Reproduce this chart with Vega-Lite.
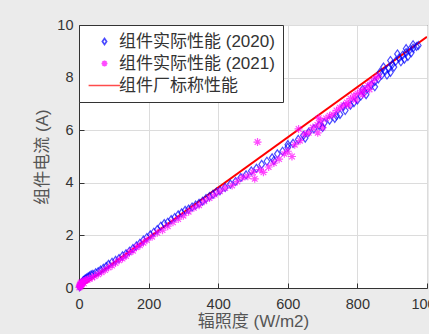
{
  "$schema": "https://vega.github.io/schema/vega-lite/v6.json",
  "width": 348,
  "height": 263,
  "autosize": {"type": "none"},
  "padding": {"left": 79, "top": 25, "right": 2, "bottom": 46},
  "background": "#ebebeb",
  "config": {
    "font": "Liberation Sans, Noto Sans CJK SC",
    "view": {"stroke": "#333333", "strokeWidth": 1, "fill": "white"},
    "axis": {
      "labelFont": "Liberation Sans, Noto Sans CJK SC",
      "titleFont": "Liberation Sans, Noto Sans CJK SC",
      "labelFontSize": 14.5,
      "labelColor": "#333333",
      "titleFontSize": 17,
      "titleFontWeight": "normal",
      "titleColor": "#555555",
      "domainColor": "#333333",
      "tickColor": "#333333",
      "gridColor": "#dcdcdc",
      "tickSize": -5,
      "labelFlush": false
    },
    "legend": {
      "labelFont": "Liberation Sans, Noto Sans CJK SC",
      "labelFontSize": 17,
      "labelColor": "#333333"
    }
  },
  "data": {
    "values": [
      {"g": "组件实际性能 (2020)", "x": 2, "y": 0.05}, {"g": "组件实际性能 (2020)", "x": 4, "y": 0.1}, {"g": "组件实际性能 (2020)", "x": 6, "y": 0.15}, {"g": "组件实际性能 (2020)", "x": 8, "y": 0.2}, {"g": "组件实际性能 (2020)", "x": 10, "y": 0.22}, {"g": "组件实际性能 (2020)", "x": 12, "y": 0.28}, {"g": "组件实际性能 (2020)", "x": 15, "y": 0.3}, {"g": "组件实际性能 (2020)", "x": 18, "y": 0.35}, {"g": "组件实际性能 (2020)", "x": 22, "y": 0.38}, {"g": "组件实际性能 (2020)", "x": 26, "y": 0.42}, {"g": "组件实际性能 (2020)", "x": 30, "y": 0.45}, {"g": "组件实际性能 (2020)", "x": 35, "y": 0.5}, {"g": "组件实际性能 (2020)", "x": 40, "y": 0.52}, {"g": "组件实际性能 (2020)", "x": 48, "y": 0.58}, {"g": "组件实际性能 (2020)", "x": 55, "y": 0.62}, {"g": "组件实际性能 (2020)", "x": 62, "y": 0.68}, {"g": "组件实际性能 (2020)", "x": 70, "y": 0.75}, {"g": "组件实际性能 (2020)", "x": 78, "y": 0.82}, {"g": "组件实际性能 (2020)", "x": 85, "y": 0.9}, {"g": "组件实际性能 (2020)", "x": 95, "y": 0.98}, {"g": "组件实际性能 (2020)", "x": 105, "y": 1.05}, {"g": "组件实际性能 (2020)", "x": 115, "y": 1.12}, {"g": "组件实际性能 (2020)", "x": 125, "y": 1.22}, {"g": "组件实际性能 (2020)", "x": 135, "y": 1.3}, {"g": "组件实际性能 (2020)", "x": 145, "y": 1.4}, {"g": "组件实际性能 (2020)", "x": 155, "y": 1.5}, {"g": "组件实际性能 (2020)", "x": 165, "y": 1.6}, {"g": "组件实际性能 (2020)", "x": 175, "y": 1.7}, {"g": "组件实际性能 (2020)", "x": 185, "y": 1.82}, {"g": "组件实际性能 (2020)", "x": 195, "y": 1.92}, {"g": "组件实际性能 (2020)", "x": 205, "y": 2.02}, {"g": "组件实际性能 (2020)", "x": 215, "y": 2.12}, {"g": "组件实际性能 (2020)", "x": 225, "y": 2.22}, {"g": "组件实际性能 (2020)", "x": 235, "y": 2.35}, {"g": "组件实际性能 (2020)", "x": 245, "y": 2.45}, {"g": "组件实际性能 (2020)", "x": 255, "y": 2.5}, {"g": "组件实际性能 (2020)", "x": 265, "y": 2.6}, {"g": "组件实际性能 (2020)", "x": 275, "y": 2.68}, {"g": "组件实际性能 (2020)", "x": 285, "y": 2.78}, {"g": "组件实际性能 (2020)", "x": 295, "y": 2.86}, {"g": "组件实际性能 (2020)", "x": 305, "y": 2.95}, {"g": "组件实际性能 (2020)", "x": 315, "y": 3.0}, {"g": "组件实际性能 (2020)", "x": 325, "y": 3.08}, {"g": "组件实际性能 (2020)", "x": 335, "y": 3.15}, {"g": "组件实际性能 (2020)", "x": 345, "y": 3.22}, {"g": "组件实际性能 (2020)", "x": 355, "y": 3.3}, {"g": "组件实际性能 (2020)", "x": 365, "y": 3.4}, {"g": "组件实际性能 (2020)", "x": 375, "y": 3.48}, {"g": "组件实际性能 (2020)", "x": 385, "y": 3.56}, {"g": "组件实际性能 (2020)", "x": 395, "y": 3.65}, {"g": "组件实际性能 (2020)", "x": 405, "y": 3.7}, {"g": "组件实际性能 (2020)", "x": 420, "y": 3.82}, {"g": "组件实际性能 (2020)", "x": 435, "y": 3.95}, {"g": "组件实际性能 (2020)", "x": 450, "y": 4.05}, {"g": "组件实际性能 (2020)", "x": 465, "y": 4.2}, {"g": "组件实际性能 (2020)", "x": 480, "y": 4.3}, {"g": "组件实际性能 (2020)", "x": 495, "y": 4.45}, {"g": "组件实际性能 (2020)", "x": 510, "y": 4.55}, {"g": "组件实际性能 (2020)", "x": 525, "y": 4.7}, {"g": "组件实际性能 (2020)", "x": 540, "y": 4.82}, {"g": "组件实际性能 (2020)", "x": 555, "y": 4.95}, {"g": "组件实际性能 (2020)", "x": 570, "y": 5.1}, {"g": "组件实际性能 (2020)", "x": 585, "y": 5.2}, {"g": "组件实际性能 (2020)", "x": 600, "y": 5.35}, {"g": "组件实际性能 (2020)", "x": 615, "y": 5.5}, {"g": "组件实际性能 (2020)", "x": 630, "y": 5.65}, {"g": "组件实际性能 (2020)", "x": 645, "y": 5.8}, {"g": "组件实际性能 (2020)", "x": 660, "y": 5.92}, {"g": "组件实际性能 (2020)", "x": 675, "y": 6.05}, {"g": "组件实际性能 (2020)", "x": 690, "y": 6.18}, {"g": "组件实际性能 (2020)", "x": 705, "y": 6.28}, {"g": "组件实际性能 (2020)", "x": 720, "y": 6.38}, {"g": "组件实际性能 (2020)", "x": 735, "y": 6.45}, {"g": "组件实际性能 (2020)", "x": 750, "y": 6.6}, {"g": "组件实际性能 (2020)", "x": 765, "y": 6.75}, {"g": "组件实际性能 (2020)", "x": 780, "y": 6.95}, {"g": "组件实际性能 (2020)", "x": 790, "y": 7.05}, {"g": "组件实际性能 (2020)", "x": 800, "y": 7.15}, {"g": "组件实际性能 (2020)", "x": 810, "y": 7.3}, {"g": "组件实际性能 (2020)", "x": 820, "y": 7.45}, {"g": "组件实际性能 (2020)", "x": 830, "y": 7.6}, {"g": "组件实际性能 (2020)", "x": 840, "y": 7.72}, {"g": "组件实际性能 (2020)", "x": 850, "y": 7.85}, {"g": "组件实际性能 (2020)", "x": 860, "y": 7.95}, {"g": "组件实际性能 (2020)", "x": 870, "y": 8.1}, {"g": "组件实际性能 (2020)", "x": 880, "y": 8.25}, {"g": "组件实际性能 (2020)", "x": 890, "y": 8.35}, {"g": "组件实际性能 (2020)", "x": 900, "y": 8.5}, {"g": "组件实际性能 (2020)", "x": 910, "y": 8.62}, {"g": "组件实际性能 (2020)", "x": 920, "y": 8.75}, {"g": "组件实际性能 (2020)", "x": 930, "y": 8.85}, {"g": "组件实际性能 (2020)", "x": 940, "y": 8.95}, {"g": "组件实际性能 (2020)", "x": 950, "y": 9.05}, {"g": "组件实际性能 (2020)", "x": 960, "y": 9.12}, {"g": "组件实际性能 (2020)", "x": 970, "y": 9.18}, {"g": "组件实际性能 (2020)", "x": 975, "y": 9.22}, {"g": "组件实际性能 (2020)", "x": 905, "y": 8.4}, {"g": "组件实际性能 (2020)", "x": 925, "y": 8.6}, {"g": "组件实际性能 (2020)", "x": 945, "y": 8.8}, {"g": "组件实际性能 (2020)", "x": 955, "y": 8.95}, {"g": "组件实际性能 (2020)", "x": 935, "y": 8.7}, {"g": "组件实际性能 (2020)", "x": 865, "y": 8.2}, {"g": "组件实际性能 (2020)", "x": 885, "y": 8.1}, {"g": "组件实际性能 (2020)", "x": 815, "y": 7.55}, {"g": "组件实际性能 (2020)", "x": 825, "y": 7.35}, {"g": "组件实际性能 (2020)", "x": 760, "y": 6.9}, {"g": "组件实际性能 (2020)", "x": 740, "y": 6.55}, {"g": "组件实际性能 (2020)", "x": 700, "y": 6.1}, {"g": "组件实际性能 (2020)", "x": 650, "y": 5.7}, {"g": "组件实际性能 (2020)", "x": 560, "y": 4.85}, {"g": "组件实际性能 (2020)", "x": 600, "y": 5.45}, {"g": "组件实际性能 (2020)", "x": 915, "y": 8.9}, {"g": "组件实际性能 (2020)", "x": 940, "y": 9.1}, {"g": "组件实际性能 (2020)", "x": 960, "y": 9.25}, {"g": "组件实际性能 (2020)", "x": 895, "y": 8.65}, {"g": "组件实际性能 (2020)", "x": 875, "y": 8.4}, {"g": "组件实际性能 (2020)", "x": 850, "y": 7.65}, {"g": "组件实际性能 (2020)", "x": 895, "y": 8.2},
      {"g": "组件实际性能 (2021)", "x": 1, "y": 0.02}, {"g": "组件实际性能 (2021)", "x": 2, "y": 0.08}, {"g": "组件实际性能 (2021)", "x": 3, "y": 0.12}, {"g": "组件实际性能 (2021)", "x": 4, "y": 0.05}, {"g": "组件实际性能 (2021)", "x": 5, "y": 0.18}, {"g": "组件实际性能 (2021)", "x": 6, "y": 0.1}, {"g": "组件实际性能 (2021)", "x": 7, "y": 0.22}, {"g": "组件实际性能 (2021)", "x": 8, "y": 0.15}, {"g": "组件实际性能 (2021)", "x": 10, "y": 0.2}, {"g": "组件实际性能 (2021)", "x": 12, "y": 0.25}, {"g": "组件实际性能 (2021)", "x": 14, "y": 0.18}, {"g": "组件实际性能 (2021)", "x": 16, "y": 0.28}, {"g": "组件实际性能 (2021)", "x": 20, "y": 0.3}, {"g": "组件实际性能 (2021)", "x": 25, "y": 0.32}, {"g": "组件实际性能 (2021)", "x": 30, "y": 0.35}, {"g": "组件实际性能 (2021)", "x": 38, "y": 0.4}, {"g": "组件实际性能 (2021)", "x": 45, "y": 0.45}, {"g": "组件实际性能 (2021)", "x": 55, "y": 0.52}, {"g": "组件实际性能 (2021)", "x": 65, "y": 0.6}, {"g": "组件实际性能 (2021)", "x": 75, "y": 0.68}, {"g": "组件实际性能 (2021)", "x": 85, "y": 0.78}, {"g": "组件实际性能 (2021)", "x": 95, "y": 0.85}, {"g": "组件实际性能 (2021)", "x": 105, "y": 0.95}, {"g": "组件实际性能 (2021)", "x": 115, "y": 1.05}, {"g": "组件实际性能 (2021)", "x": 125, "y": 1.12}, {"g": "组件实际性能 (2021)", "x": 135, "y": 1.22}, {"g": "组件实际性能 (2021)", "x": 145, "y": 1.35}, {"g": "组件实际性能 (2021)", "x": 155, "y": 1.42}, {"g": "组件实际性能 (2021)", "x": 165, "y": 1.55}, {"g": "组件实际性能 (2021)", "x": 175, "y": 1.62}, {"g": "组件实际性能 (2021)", "x": 185, "y": 1.72}, {"g": "组件实际性能 (2021)", "x": 195, "y": 1.82}, {"g": "组件实际性能 (2021)", "x": 210, "y": 1.95}, {"g": "组件实际性能 (2021)", "x": 225, "y": 2.1}, {"g": "组件实际性能 (2021)", "x": 240, "y": 2.2}, {"g": "组件实际性能 (2021)", "x": 255, "y": 2.35}, {"g": "组件实际性能 (2021)", "x": 270, "y": 2.5}, {"g": "组件实际性能 (2021)", "x": 285, "y": 2.62}, {"g": "组件实际性能 (2021)", "x": 300, "y": 2.75}, {"g": "组件实际性能 (2021)", "x": 315, "y": 2.9}, {"g": "组件实际性能 (2021)", "x": 330, "y": 3.05}, {"g": "组件实际性能 (2021)", "x": 345, "y": 3.15}, {"g": "组件实际性能 (2021)", "x": 360, "y": 3.3}, {"g": "组件实际性能 (2021)", "x": 375, "y": 3.42}, {"g": "组件实际性能 (2021)", "x": 390, "y": 3.55}, {"g": "组件实际性能 (2021)", "x": 405, "y": 3.68}, {"g": "组件实际性能 (2021)", "x": 420, "y": 3.8}, {"g": "组件实际性能 (2021)", "x": 440, "y": 3.9}, {"g": "组件实际性能 (2021)", "x": 455, "y": 4.05}, {"g": "组件实际性能 (2021)", "x": 470, "y": 4.2}, {"g": "组件实际性能 (2021)", "x": 485, "y": 4.25}, {"g": "组件实际性能 (2021)", "x": 500, "y": 4.4}, {"g": "组件实际性能 (2021)", "x": 505, "y": 4.15}, {"g": "组件实际性能 (2021)", "x": 513, "y": 5.55}, {"g": "组件实际性能 (2021)", "x": 520, "y": 4.5}, {"g": "组件实际性能 (2021)", "x": 530, "y": 4.4}, {"g": "组件实际性能 (2021)", "x": 545, "y": 4.6}, {"g": "组件实际性能 (2021)", "x": 560, "y": 4.75}, {"g": "组件实际性能 (2021)", "x": 575, "y": 4.9}, {"g": "组件实际性能 (2021)", "x": 590, "y": 5.1}, {"g": "组件实际性能 (2021)", "x": 600, "y": 5.2}, {"g": "组件实际性能 (2021)", "x": 612, "y": 5.0}, {"g": "组件实际性能 (2021)", "x": 620, "y": 5.45}, {"g": "组件实际性能 (2021)", "x": 631, "y": 6.05}, {"g": "组件实际性能 (2021)", "x": 635, "y": 5.6}, {"g": "组件实际性能 (2021)", "x": 648, "y": 5.85}, {"g": "组件实际性能 (2021)", "x": 660, "y": 5.9}, {"g": "组件实际性能 (2021)", "x": 672, "y": 6.1}, {"g": "组件实际性能 (2021)", "x": 685, "y": 6.2}, {"g": "组件实际性能 (2021)", "x": 686, "y": 5.9}, {"g": "组件实际性能 (2021)", "x": 689, "y": 6.46}, {"g": "组件实际性能 (2021)", "x": 695, "y": 6.35}, {"g": "组件实际性能 (2021)", "x": 700, "y": 6.1}, {"g": "组件实际性能 (2021)", "x": 710, "y": 6.45}, {"g": "组件实际性能 (2021)", "x": 720, "y": 6.55}, {"g": "组件实际性能 (2021)", "x": 730, "y": 6.6}, {"g": "组件实际性能 (2021)", "x": 740, "y": 6.75}, {"g": "组件实际性能 (2021)", "x": 750, "y": 6.85}, {"g": "组件实际性能 (2021)", "x": 760, "y": 6.95}, {"g": "组件实际性能 (2021)", "x": 770, "y": 7.05}, {"g": "组件实际性能 (2021)", "x": 780, "y": 7.2}, {"g": "组件实际性能 (2021)", "x": 790, "y": 7.3}, {"g": "组件实际性能 (2021)", "x": 800, "y": 7.4}, {"g": "组件实际性能 (2021)", "x": 810, "y": 7.5}, {"g": "组件实际性能 (2021)", "x": 820, "y": 7.55}, {"g": "组件实际性能 (2021)", "x": 830, "y": 7.7}, {"g": "组件实际性能 (2021)", "x": 840, "y": 7.8}, {"g": "组件实际性能 (2021)", "x": 850, "y": 7.95}, {"g": "组件实际性能 (2021)", "x": 860, "y": 8.05}, {"g": "组件实际性能 (2021)", "x": 775, "y": 6.95}, {"g": "组件实际性能 (2021)", "x": 795, "y": 7.15}, {"g": "组件实际性能 (2021)", "x": 815, "y": 7.35}, {"g": "组件实际性能 (2021)", "x": 835, "y": 7.55},
      {"g": "组件厂标称性能", "x": 0, "y": 0},
      {"g": "组件厂标称性能", "x": 1000, "y": 9.55}
    ]
  },
  "encoding": {
    "x": {
      "field": "x", "type": "quantitative",
      "scale": {"domain": [0, 1000], "nice": false},
      "axis": {"values": [0, 200, 400, 600, 800, 1000], "format": "d", "title": "辐照度 (W/m2)", "titlePadding": 3, "labelPadding": 14}
    },
    "y": {
      "field": "y", "type": "quantitative",
      "scale": {"domain": [0, 10], "nice": false},
      "axis": {"values": [0, 2, 4, 6, 8, 10], "title": "组件电流 (A)", "titlePadding": 5, "labelPadding": 11}
    }
  },
  "layer": [
    {
      "transform": [{"filter": "datum.g === '组件厂标称性能'"}],
      "mark": {"type": "line", "strokeWidth": 2, "clip": true, "color": "#ff0000"},
      "encoding": {}
    },
    {
      "transform": [{"filter": "datum.g !== '组件厂标称性能'"}],
      "mark": {"type": "point", "filled": false, "size": 64, "strokeWidth": 1.2},
      "encoding": {
        "color": {
          "field": "g", "type": "nominal",
          "scale": {
            "domain": ["组件实际性能 (2020)", "组件实际性能 (2021)", "组件厂标称性能"],
            "range": ["#0000ff", "#ff00ff", "#ff0000"]
          },
          "legend": {
            "title": null,
            "orient": "top-left",
            "offset": 0,
            "padding": 8,
            "fillColor": "white",
            "strokeColor": "#333333",
            "symbolSize": 36,
            "symbolStrokeWidth": 1.7,
            "symbolOffset": 9,
            "labelOffset": 6,
            "rowPadding": 4,
            "cornerRadius": 0
          }
        },
        "shape": {
          "field": "g", "type": "nominal",
          "scale": {
            "domain": ["组件实际性能 (2020)", "组件实际性能 (2021)", "组件厂标称性能"],
            "range": ["M0,-1L0.7,0L0,1L-0.7,0Z", "M0,-1L0,1M-1,0L1,0M-0.7,-0.7L0.7,0.7M-0.7,0.7L0.7,-0.7", "M-5.3,0L5.3,0"]
          },
          "legend": {
            "title": null,
            "orient": "top-left",
            "offset": 0,
            "padding": 8,
            "fillColor": "white",
            "strokeColor": "#333333",
            "symbolSize": 36,
            "symbolStrokeWidth": 1.7,
            "symbolOffset": 9,
            "labelOffset": 6,
            "rowPadding": 4,
            "cornerRadius": 0
          }
        }
      }
    }
  ]
}
